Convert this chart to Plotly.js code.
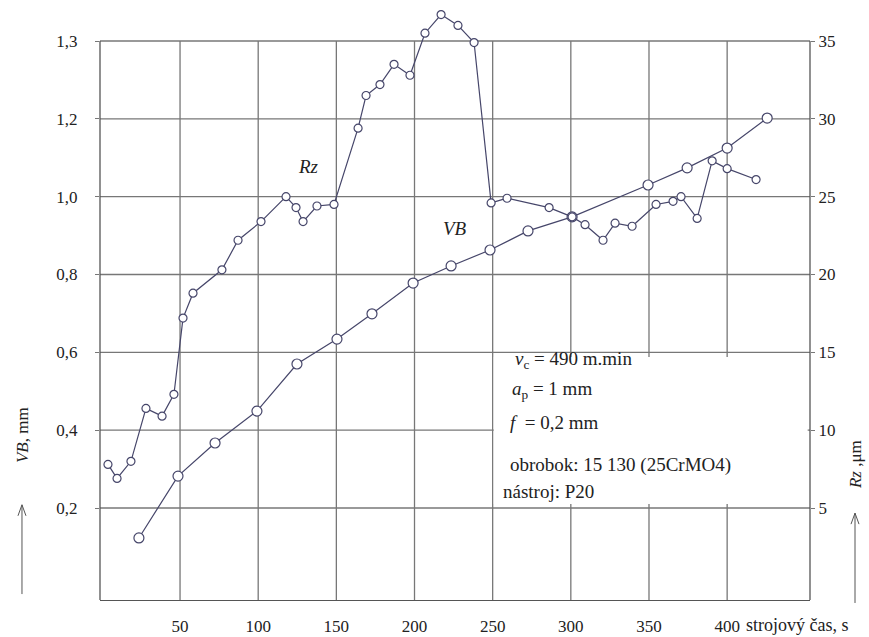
<!DOCTYPE html>
<html><head><meta charset="utf-8">
<script src="https://cdn.plot.ly/plotly-3.0.1.min.js"></script>
<style>html,body{margin:0;padding:0;background:#fff}#chart{width:869px;height:637px}</style>
</head><body><div id="chart"></div>
<script>
// ---- data ----
const rzTime = [3.9, 9.7, 18.6, 28.2, 38.5, 46.1, 51.9, 58.3, 76.8, 87.1, 101.8, 117.8, 124.2, 128.7, 137.6, 148.5, 163.9, 169.0, 177.9, 186.9, 197.1, 206.7, 217.0, 227.8, 238.1, 249.0, 259.2, 286.1, 300.8, 309.1, 320.6, 328.3, 339.2, 354.5, 365.4, 370.5, 380.8, 390.4, 400.0, 418.5];
const rzValues = [7.8, 6.9, 8.0, 11.4, 10.9, 12.3, 17.2, 18.8, 20.3, 22.2, 23.4, 25.0, 24.3, 23.4, 24.4, 24.5, 29.4, 31.5, 32.2, 33.5, 32.8, 35.5, 36.7, 36.0, 34.9, 24.6, 24.9, 24.3, 23.7, 23.2, 22.2, 23.3, 23.1, 24.5, 24.7, 25.0, 23.6, 27.3, 26.8, 26.1];
const vbTime = [23.7, 48.7, 72.4, 99.2, 124.8, 150.4, 172.8, 199.1, 223.4, 248.3, 272.6, 300.8, 349.4, 374.4, 400.0, 425.6];
const vbValues = [0.123, 0.282, 0.367, 0.449, 0.570, 0.634, 0.699, 0.778, 0.822, 0.863, 0.912, 0.948, 1.030, 1.074, 1.125, 1.202];

const xTickVals = [50, 100, 150, 200, 250, 300, 350, 400];
const xTickText = ['50', '100', '150', '200', '250', '300', '350', '400'];
const rzTickVals = [5, 10, 15, 20, 25, 30, 35];
const rzTickText = ['5', '10', '15', '20', '25', '30', '35'];
const vbTickVals = [0.2, 0.4, 0.6, 0.8, 1.0, 1.2, 1.4];
const vbTickText = ['0,2', '0,4', '0,6', '0,8', '1,0', '1,2', '1,3'];

const xAxisLabel = 'strojový čas, s';
const vbAxisLabel = '<i>VB</i>, mm';
const rzAxisLabel = '<i>Rz</i> ,μm';
const infoLines = ['<i>v</i><sub>c</sub> = 490 m.min', '<i>a</i><sub>p</sub> = 1 mm', '<i>f</i>  = 0,2 mm', 'obrobok: 15 130 (25CrMO4)', 'nástroj: P20'];

// ---- styling ----
const LINE = '#46466a';
const GRID = '#777777';
const FRAME = '#555555';
const TEXT = '#222222';
const FONT = 'Liberation Serif, Times New Roman, serif';

const X_RANGE = [-1.2, 453];
const RZ_RANGE = [-0.91, 37.313];
const VB_PER_RZ = 0.04;
const VB_RANGE = RZ_RANGE.map(v => v * VB_PER_RZ);
const RZ_TOP = rzTickVals[rzTickVals.length - 1];
const topPaper = (RZ_TOP - RZ_RANGE[0]) / (RZ_RANGE[1] - RZ_RANGE[0]);

const shapes = [];
xTickVals.forEach(t => shapes.push({type: 'line', layer: 'below', xref: 'x', yref: 'y2', x0: t, x1: t, y0: RZ_RANGE[0], y1: RZ_TOP, line: {color: GRID, width: 1.3}}));
rzTickVals.forEach(t => shapes.push({type: 'line', layer: 'below', xref: 'paper', yref: 'y2', x0: 0, x1: 1, y0: t, y1: t, line: {color: GRID, width: 1.3}}));
// white background of the parameter box
shapes.push({type: 'rect', layer: 'below', xref: 'x', yref: 'y2', x0: 250.7, x1: 451.5, y0: 5.25, y1: 14.7, fillcolor: '#ffffff', line: {width: 0}});
// frame
shapes.push({type: 'line', layer: 'below', xref: 'paper', yref: 'paper', x0: 0, x1: 0, y0: 0, y1: topPaper, line: {color: FRAME, width: 1.3}});
shapes.push({type: 'line', layer: 'below', xref: 'paper', yref: 'paper', x0: 1, x1: 1, y0: 0, y1: topPaper, line: {color: FRAME, width: 1.3}});

// upward arrows beside the axis titles (paper coordinates)
const PW = 710, PH = 595;
function arrow(x, yHead, yTail) {
  const dx = 4 / PW, dy = 11 / PH;
  shapes.push({type: 'line', xref: 'paper', yref: 'paper', x0: x, x1: x, y0: yTail, y1: yHead, line: {color: '#555', width: 1}});
  shapes.push({type: 'path', xref: 'paper', yref: 'paper',
    path: `M ${x - dx} ${yHead - dy} L ${x} ${yHead} L ${x + dx} ${yHead - dy}`, line: {color: '#555', width: 1}});
}
arrow(-0.1099, 0.160, 0.010);
arrow(1.0634, 0.146, -0.005);

const traces = [
  {x: vbTime, y: vbValues, yaxis: 'y', mode: 'lines+markers', cliponaxis: false,
   line: {color: LINE, width: 1.2}, marker: {symbol: 'circle', size: 10, color: '#ffffff', line: {color: LINE, width: 1.2}}},
  {x: rzTime, y: rzValues, yaxis: 'y2', mode: 'lines+markers', cliponaxis: false,
   line: {color: LINE, width: 1.2}, marker: {symbol: 'circle', size: 8, color: '#ffffff', line: {color: LINE, width: 1.2}}}
];

const infoY = [0.403, 0.353, 0.299, 0.227, 0.182];
const infoX = [0.582, 0.577, 0.575, 0.575, 0.565];
const annotations = infoLines.map((t, i) => ({text: t, xref: 'paper', yref: 'paper', x: infoX[i], y: infoY[i], xanchor: 'left', yanchor: 'middle', showarrow: false, font: {size: 19, color: TEXT}}));
annotations.push({text: '<i>Rz</i>', xref: 'paper', yref: 'paper', x: 0.293, y: 0.729, xanchor: 'center', yanchor: 'middle', showarrow: false, font: {size: 19, color: TEXT}});
annotations.push({text: '<i>VB</i>', xref: 'paper', yref: 'paper', x: 0.5, y: 0.624, xanchor: 'center', yanchor: 'middle', showarrow: false, font: {size: 19, color: TEXT}});
annotations.push({text: xAxisLabel, xref: 'x', yref: 'paper', x: 410.5, y: -0.042, xanchor: 'left', yanchor: 'middle', showarrow: false, font: {size: 18, color: TEXT}});
annotations.push({text: vbAxisLabel, xref: 'paper', yref: 'paper', x: -0.110, y: 0.277, xanchor: 'center', yanchor: 'middle', textangle: -90, showarrow: false, font: {size: 17, color: TEXT}});
annotations.push({text: rzAxisLabel, xref: 'paper', yref: 'paper', x: 1.065, y: 0.227, xanchor: 'center', yanchor: 'middle', textangle: -90, showarrow: false, font: {size: 17, color: TEXT}});

const layout = {
  width: 869, height: 637,
  margin: {l: 100, r: 59, t: 5, b: 37},
  paper_bgcolor: '#ffffff', plot_bgcolor: '#ffffff',
  showlegend: false,
  font: {family: FONT, size: 17, color: TEXT},
  xaxis: {range: X_RANGE, tickvals: xTickVals, ticktext: xTickText, showgrid: false, zeroline: false,
          showline: true, linecolor: FRAME, linewidth: 1.3, ticks: '', ticklabelstandoff: 10, fixedrange: true},
  yaxis: {range: VB_RANGE, tickvals: vbTickVals, ticktext: vbTickText, showgrid: false, zeroline: false,
          ticks: 'outside', ticklen: 4, tickcolor: GRID, ticklabelstandoff: 14, fixedrange: true},
  yaxis2: {range: RZ_RANGE, tickvals: rzTickVals, ticktext: rzTickText, overlaying: 'y', side: 'right',
           showgrid: false, zeroline: false, ticks: 'outside', ticklen: 4, tickcolor: GRID, fixedrange: true},
  shapes: shapes,
  annotations: annotations
};

Plotly.newPlot('chart', traces, layout, {displayModeBar: false, staticPlot: true});
</script>
</body></html>
